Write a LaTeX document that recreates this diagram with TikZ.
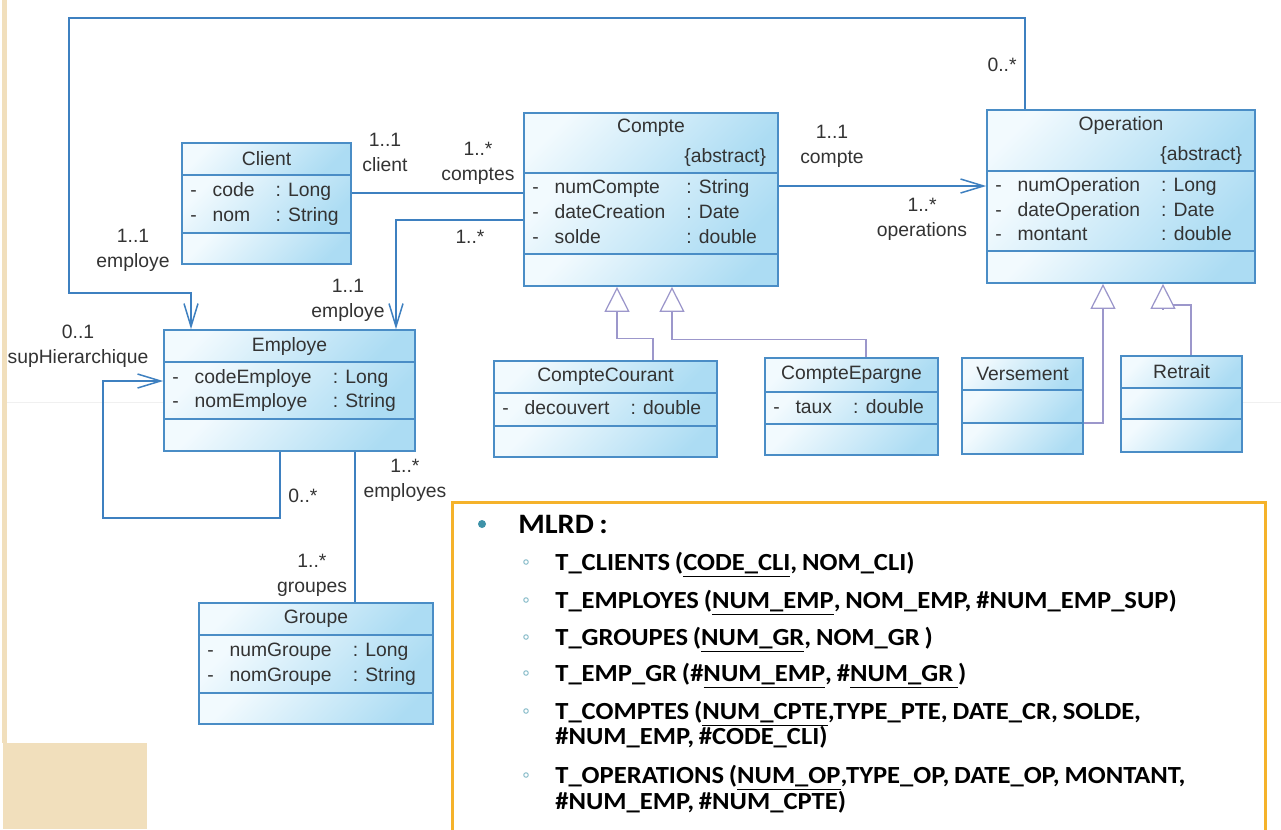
\documentclass[tikz,border=0pt]{standalone}
\usepackage{fontspec}
\setmainfont{Liberation Sans}
\newfontfamily\mlrdfont[FakeStretch=1.08,WordSpace=0.8]{Carlito}
\usetikzlibrary{arrows.meta,positioning,calc,fit}

\definecolor{clsedge}{HTML}{4A8DC6}
\definecolor{clstop}{HTML}{F2FAFE}
\definecolor{clsbot}{HTML}{ACDCF3}
\definecolor{assocblue}{HTML}{3E80C0}
\definecolor{genviolet}{HTML}{9C97CB}
\definecolor{txtgray}{HTML}{333333}
\definecolor{slideorange}{HTML}{F5B22A}
\definecolor{slidebeige}{HTML}{F1DFBC}
\definecolor{bulletteal}{HTML}{3E92A8}

\tikzset{
  clsfill/.style={top color=clstop, bottom color=clsbot, shading angle=45},
  clsbox/.style={draw=clsedge, line width=0.35mm, inner sep=0pt},
  clsline/.style={draw=clsedge, line width=0.3mm},
  clstitle/.style={font=\fontsize{11}{14.2}\selectfont, text=txtgray, inner sep=0pt},
  clsattr/.style={font=\fontsize{11}{14.2}\selectfont, text=txtgray, inner sep=0pt, anchor=west},
  assoc/.style={draw=assocblue, line width=0.3mm},
  navig/.style={assoc, -{Straight Barb[length=4.6mm, width=2.8mm]}},
  genline/.style={draw=genviolet, line width=0.25mm},
  gen/.style={genline, -{Triangle[length=5mm, width=5mm, fill=white]}},
  mult/.style={font=\fontsize{11}{14.2}\selectfont, text=txtgray, align=center, inner sep=0pt},
  mlrdhead/.style={font=\mlrdfont\bfseries\fontsize{16}{19}\selectfont, anchor=base west, inner sep=0pt},
  mlrdrow/.style={font=\mlrdfont\bfseries\fontsize{14}{17}\selectfont, anchor=base west, inner sep=0pt}
}

% attribute list of a class
\newcommand{\clsattrs}[1]{\begin{tabular}{@{}l@{\hspace{9pt}}l@{\hspace{12pt}}l@{}}#1\end{tabular}}
% class box: name, left, top, right, 1st divider, 2nd divider, bottom, title, attributes
\newcommand{\umlclass}[9]{%
  \shade[clsfill] (#2,#3) rectangle (#4,#5);
  \shade[clsfill] (#2,#5) rectangle (#4,#6);
  \shade[clsfill] (#2,#6) rectangle (#4,#7);
  \draw[clsline] (#2,#5) -- (#4,#5) (#2,#6) -- (#4,#6);
  \node[clsbox, fit={(#2,#3) (#4,#7)}] (#1) {};
  \node[clstitle] (#1-title) at ({(#2+#4)/2},{(#3+#5)/2}) {#8};
  \node[clsattr] (#1-attrs) at ({#2+8},{(#5+#6)/2}) {#9};
}

\begin{document}
\begin{tikzpicture}[x=0.2mm,y=-0.2mm]
\useasboundingbox[fill=white] (0,0) rectangle (1281,829);
% slide background
\fill[slidebeige] (2,0) rectangle (7,743);
\fill[slidebeige] (3,743) rectangle (147,829);
\draw[gray!12, line width=0.2mm] (7,402) -- (164,402) (1242,402) -- (1281,402);

% classes
\umlclass{client}{182}{143}{351}{175}{233}{264}{Client}
  {\clsattrs{- & code & : Long\\ - & nom & : String}}
\umlclass{compte}{524}{113}{778}{173}{254}{286}
  {\parbox{46mm}{\centering Compte\\[3pt]\hspace*{\fill}\{abstract\}}}
  {\clsattrs{- & numCompte & : String\\ - & dateCreation & : Date\\ - & solde & : double}}
\umlclass{operation}{987}{110}{1255}{171}{251}{283}
  {\parbox{48.4mm}{\centering Operation\\[3pt]\hspace*{\fill}\{abstract\}}}
  {\clsattrs{- & numOperation & : Long\\ - & dateOperation & : Date\\ - & montant & : double}}
\umlclass{employe}{164}{330}{415}{362}{419}{451}{Employe}
  {\clsattrs{- & codeEmploye & : Long\\ - & nomEmploye & : String}}
\umlclass{groupe}{199}{603}{433}{635}{693}{724}{Groupe}
  {\clsattrs{- & numGroupe & : Long\\ - & nomGroupe & : String}}
\umlclass{courant}{494}{361}{717}{393}{426}{457}{CompteCourant}
  {\clsattrs{- & decouvert & : double}}
\umlclass{epargne}{765}{358}{938}{392}{424}{455}{CompteEpargne}
  {\clsattrs{- & taux & : double}}
\umlclass{versement}{962}{358}{1083}{390}{423}{454}{Versement}{}
\umlclass{retrait}{1121}{356}{1242}{388}{419}{452}{Retrait}{}

% associations
\draw[assoc] ([yshift=2.1mm]client.east) -- ([yshift=2.1mm]client.east -| compte.west);
\draw[navig] ([yshift=-4.1mm]compte.west) -| ([xshift=21.3mm]employe.north);
\draw[navig] ([yshift=2.7mm]compte.east) -- ([yshift=2.7mm]compte.east -| operation.west);
\draw[navig] ([xshift=-19.2mm]operation.north) -- ++(0,-91) -| (69,293) -| ([xshift=-19.7mm]employe.north);
\draw[navig] ([xshift=-1.9mm]employe.south) |- (103,518) |- ([yshift=1.9mm]employe.west);
\draw[assoc] ([xshift=13.1mm]employe.south) -- ([xshift=13.1mm]employe.south |- groupe.north);

% inheritance
\draw[gen] ([xshift=9.5mm]courant.north) -- ++(0,-22) -| ([xshift=-6.8mm]compte.south);
\draw[gen] ([xshift=2.9mm]epargne.north) -- ++(0,-18) -| ([xshift=4.2mm]compte.south);
\draw[gen] ([yshift=-3.4mm]versement.east) -| ([xshift=-3.6mm]operation.south);
\draw[genline] ([xshift=1.9mm]retrait.north) |- ([xshift=8.4mm,yshift=-4.2mm]operation.south);
\draw[gen] ([xshift=8.4mm,yshift=-5.2mm]operation.south) -- ([xshift=8.4mm]operation.south);

% multiplicities
\node[mult] (m-client) at (385,152) {1..1\\client};
\node[mult] (m-comptes) at (478,163) {1..*\\comptes};
\node[mult] (m-comptes-emp) at (470,237) {1..*};
\node[mult] (m-employe-cpt) at (348,300) {1..1\\employe};
\node[mult] (m-employe-op) at (133,250) {1..1\\employe};
\node[mult] (m-sup) at (78,346) {0..1\\supHierarchique};
\node[mult] (m-sub) at (303,496) {0..*};
\node[mult] (m-employes) at (405,480) {1..*\\employes};
\node[mult] (m-groupes) at (312,575) {1..*\\groupes};
\node[mult] (m-compte) at (832,146) {1..1\\compte};
\node[mult] (m-operations) at (922,219) {1..*\\operations};
\node[mult] (m-op-emp) at (1002,65) {0..*};

% MLRD frame
\draw[slideorange, line width=0.6mm] (452,840) |- (1265,502) -- (1265,840);
\fill[bulletteal] (482,524) circle[radius=0.8mm];
\foreach \y in {562,600,637,673,711,775}
  \draw[bulletteal!60, line width=0.2mm] (526,\y) circle[radius=0.45mm];
\node[mlrdhead] (mlrd) at (518,533) {MLRD :};
\node[mlrdrow] (r-clients) at (555,570) {T\_CLIENTS (\underline{CODE\_CLI}, NOM\_CLI)};
\node[mlrdrow] (r-employes) at (555,608) {T\_EMPLOYES (\underline{NUM\_EMP}, NOM\_EMP, \#NUM\_EMP\_SUP)};
\node[mlrdrow] (r-groupes) at (555,645) {T\_GROUPES (\underline{NUM\_GR}, NOM\_GR )};
\node[mlrdrow] (r-empgr) at (555,681) {T\_EMP\_GR (\#\underline{NUM\_EMP}, \#\underline{NUM\_GR\ })};
\node[mlrdrow] (r-comptes) at (555,719) {T\_COMPTES (\underline{NUM\_CPTE},TYPE\_PTE, DATE\_CR, SOLDE,};
\node[mlrdrow] (r-comptes-b) at (555,744) {\#NUM\_EMP, \#CODE\_CLI)};
\node[mlrdrow] (r-operations) at (555,783) {T\_OPERATIONS (\underline{NUM\_OP},TYPE\_OP, DATE\_OP, MONTANT,};
\node[mlrdrow] (r-operations-b) at (555,809) {\#NUM\_EMP, \#NUM\_CPTE)};
\end{tikzpicture}
\end{document}
